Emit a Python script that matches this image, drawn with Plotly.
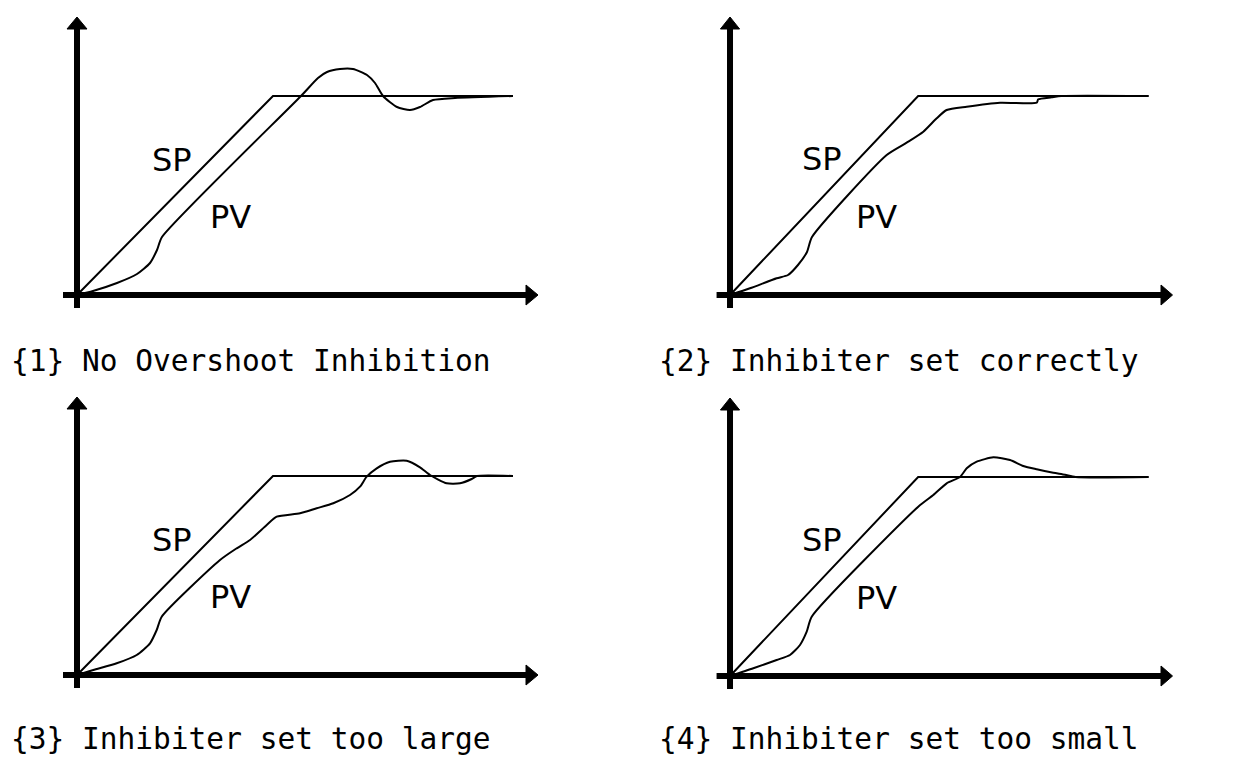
import plotly.graph_objects as go

# Set point profile shared by all four panels (time units, value units)
sp_time = [0, 196, 436]
sp_value = [0, 199, 199]

# Process value responses
pv1_time = [0, 16, 40, 60, 73, 80, 85, 224, 241, 250, 263, 276, 290, 298, 306, 320, 333, 343, 356, 378, 436]
pv1_value = [0, 4, 12, 21, 32, 45, 58, 199, 217, 223, 226, 226, 220, 212, 199, 188, 185, 188, 195, 197, 199]

pv2_time = [0, 20.8, 48.6, 60.4, 70.8, 80.2, 85.4, 163.2, 184, 201.4, 215.3, 225.7, 246.6, 281.3, 319.5, 321.1, 335.1, 345, 436]
pv2_value = [0, 6.7, 16.7, 20, 30, 43, 58, 140, 152.3, 163.3, 176.7, 185, 188.3, 192.3, 192.3, 195.7, 197.7, 199, 199]

pv3_time = [0, 16.3, 39.7, 59.7, 73, 79.7, 84.7, 143, 159.7, 173, 189.7, 199.7, 223, 239.7, 256.3, 273, 283,
            289.7, 299.7, 313, 329.7, 343, 353, 369.7, 383, 394.7, 400, 436]
pv3_value = [0, 5, 11.7, 20, 31.7, 45, 58.3, 115, 126.7, 135, 150, 158.3, 161.7, 166.7, 171.7, 180, 188.3,
             198.3, 206.7, 213.3, 214.3, 207.7, 200, 191.7, 191.7, 196, 199, 199]

pv4_time = [0, 24.3, 48.6, 62.5, 72.9, 79.9, 85.1, 196.1, 211.8, 225.7, 239.6, 246.6, 257, 274.3, 291.7, 305.5,
            319.5, 336.8, 349, 360, 436]
pv4_value = [0, 7.7, 16, 21, 31, 44.3, 59.3, 169.3, 181, 192.7, 199, 207.7, 214.3, 218.7, 216, 210,
             206.7, 203.3, 201.3, 199, 199]

captions = [
    "{1} No Overshoot Inhibition",
    "{2} Inhibiter set correctly",
    "{3} Inhibiter set too large",
    "{4} Inhibiter set too small",
]

panels = [
    dict(t=pv1_time, v=pv1_value, xr=[-77, 545.5], yr=[-85, 295], xd=[0, 0.5], yd=[1 - 380 / 758, 1],
         cap=(-67, -66), sp=(94.7, 135), pv=(153, 78.3)),
    dict(t=pv2_time, v=pv2_value, xr=[-112, 536.5], yr=[-85, 295], xd=[0.5, 1], yd=[1 - 380 / 758, 1],
         cap=(-75, -66), sp=(95.5, 135.7), pv=(152.8, 78.3)),
    dict(t=pv3_time, v=pv3_value, xr=[-77, 545.5], yr=[-83, 295], xd=[0, 0.5], yd=[0, 1 - 380 / 758],
         cap=(-67, -64), sp=(94.7, 135), pv=(153, 78.3)),
    dict(t=pv4_time, v=pv4_value, xr=[-112, 536.5], yr=[-82, 296], xd=[0.5, 1], yd=[0, 1 - 380 / 758],
         cap=(-75, -63), sp=(95.5, 136), pv=(152.8, 78.3)),
]

# Axis extents (same units as the data)
AX_X_MIN, AX_X_TIP = -14, 461
AX_Y_MIN, AX_Y_TIP = -13, 278

fig = go.Figure()
shapes = []
annotations = []
layout_axes = {}

for i, p in enumerate(panels, start=1):
    xa = "x" if i == 1 else f"x{i}"
    ya = "y" if i == 1 else f"y{i}"

    fig.add_trace(go.Scatter(x=sp_time, y=sp_value, mode="lines", xaxis=xa, yaxis=ya,
                             line=dict(color="black", width=2), hoverinfo="skip"))
    fig.add_trace(go.Scatter(x=p["t"], y=p["v"], mode="lines", xaxis=xa, yaxis=ya,
                             line=dict(color="black", width=2, shape="spline", smoothing=0.6),
                             hoverinfo="skip"))

    # axes with arrowheads
    shapes.append(dict(type="line", xref=xa, yref=ya, x0=AX_X_MIN, y0=0, x1=AX_X_TIP - 8, y1=0,
                       line=dict(color="black", width=6)))
    shapes.append(dict(type="line", xref=xa, yref=ya, x0=0, y0=AX_Y_MIN, x1=0, y1=AX_Y_TIP - 8,
                       line=dict(color="black", width=6)))
    shapes.append(dict(type="path", xref=xa, yref=ya,
                       path=f"M {AX_X_TIP - 12} -10 L {AX_X_TIP - 12} 10 L {AX_X_TIP} 0 Z",
                       fillcolor="black", line=dict(color="black", width=1)))
    shapes.append(dict(type="path", xref=xa, yref=ya,
                       path=f"M -10 {AX_Y_TIP - 12} L 10 {AX_Y_TIP - 12} L 0 {AX_Y_TIP} Z",
                       fillcolor="black", line=dict(color="black", width=1)))

    annotations.append(dict(xref=xa, yref=ya, x=p["sp"][0], y=p["sp"][1], text="SP", showarrow=False,
                            font=dict(family="DejaVu Sans", size=32, color="black")))
    annotations.append(dict(xref=xa, yref=ya, x=p["pv"][0], y=p["pv"][1], text="PV", showarrow=False,
                            font=dict(family="DejaVu Sans", size=32, color="black")))
    annotations.append(dict(xref=xa, yref=ya, x=p["cap"][0], y=p["cap"][1], text=captions[i - 1],
                            showarrow=False, xanchor="left", yanchor="middle", borderpad=0,
                            font=dict(family="DejaVu Sans Mono", size=29.5, color="black")))

    xkey = "xaxis" if i == 1 else f"xaxis{i}"
    ykey = "yaxis" if i == 1 else f"yaxis{i}"
    layout_axes[xkey] = dict(domain=p["xd"], range=p["xr"], visible=False, fixedrange=True, anchor=ya)
    layout_axes[ykey] = dict(domain=p["yd"], range=p["yr"], visible=False, fixedrange=True, anchor=xa)

fig.update_layout(
    width=1245, height=758,
    margin=dict(l=0, r=0, t=0, b=0),
    paper_bgcolor="white", plot_bgcolor="white",
    showlegend=False,
    shapes=shapes,
    annotations=annotations,
    **layout_axes,
)

fig.write_html("out.html", config={"displayModeBar": False})
